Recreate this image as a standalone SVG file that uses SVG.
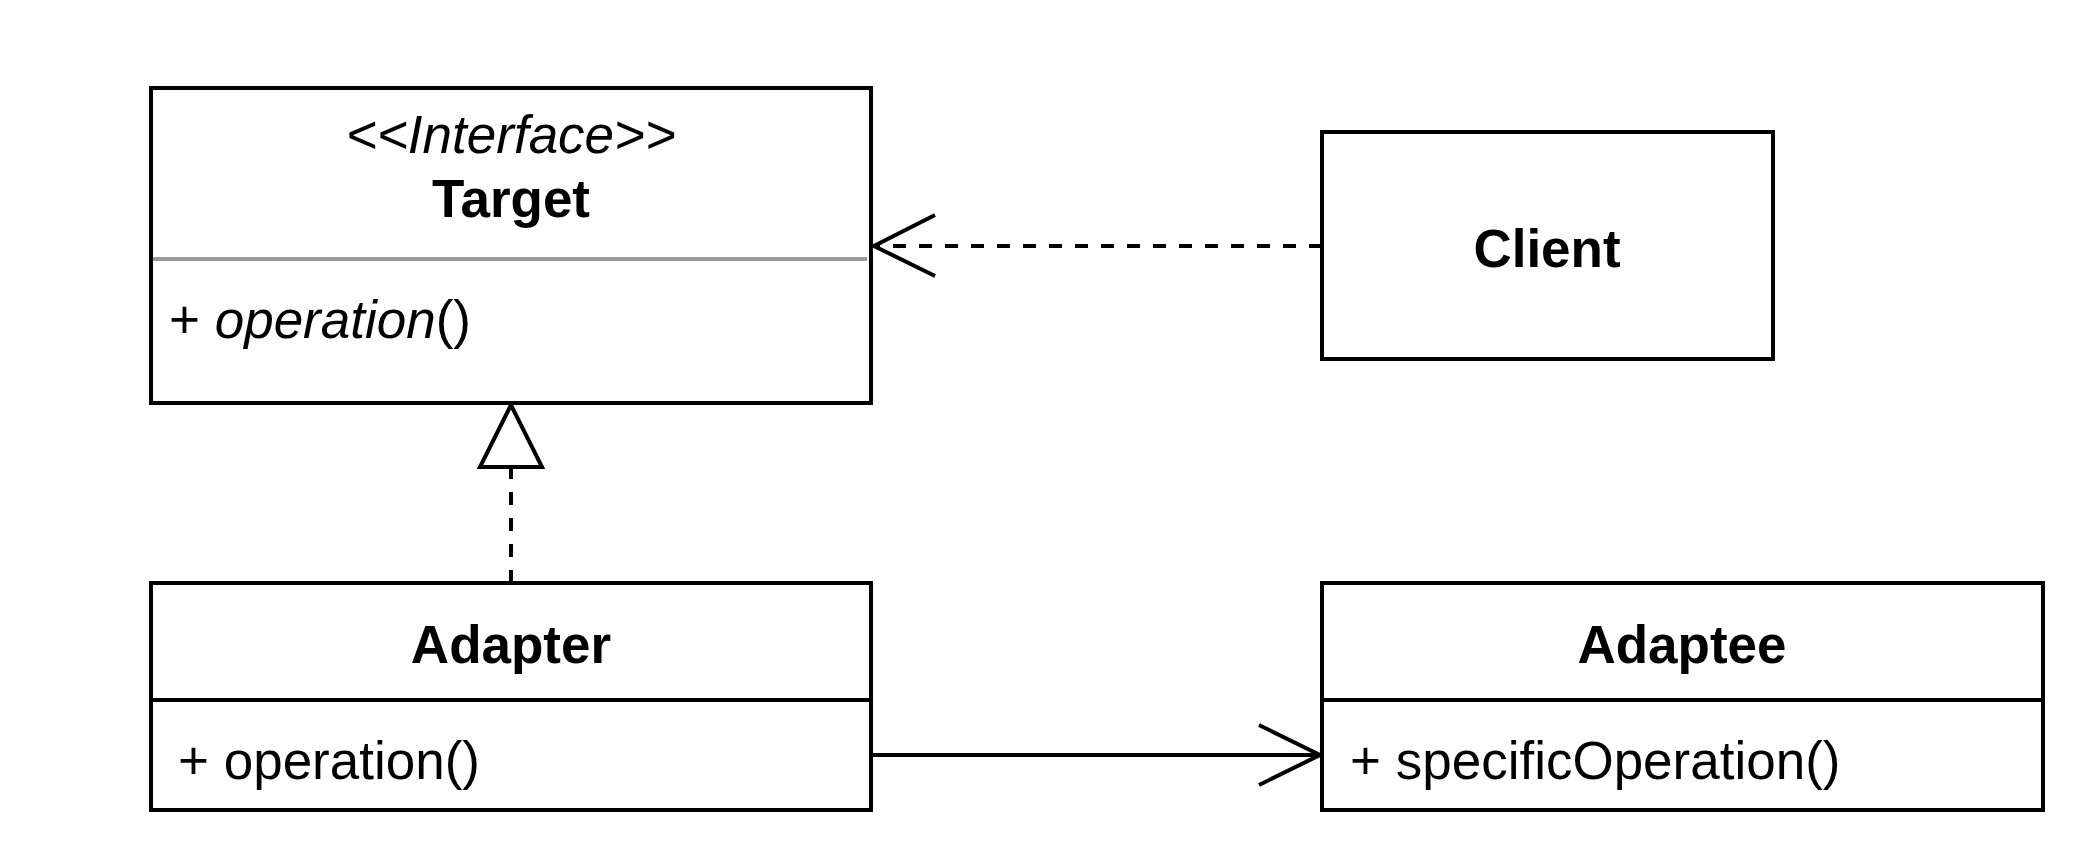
<svg xmlns="http://www.w3.org/2000/svg" width="2080" height="854" viewBox="0 0 2080 854">
<style>
.box{fill:#fff;stroke:#000;stroke-width:4}
.div{stroke:#000;stroke-width:4}
.t{font-family:"Liberation Sans",Arial,Helvetica,sans-serif;font-size:53px;fill:#000}
.b{font-weight:bold}
.i{font-style:italic}
.c{text-anchor:middle}
.ln{fill:none;stroke:#000;stroke-width:4}
.dash{stroke-dasharray:13 13}
</style>
<rect width="2080" height="854" fill="#fff"/>
<g id="connectors">
  <line class="ln dash" x1="1322" y1="246" x2="876" y2="246"/>
  <polyline class="ln" points="935,215 874,246 935,276"/>
  <line class="ln dash" x1="511" y1="583" x2="511" y2="467"/>
  <polygon class="ln" fill="#fff" points="511,405 480,467 542,467"/>
  <line class="ln" x1="871" y1="755" x2="1318" y2="755"/>
  <polyline class="ln" points="1259,725 1320,755 1259,785"/>
</g>
<g id="target">
  <rect class="box" x="151" y="88" width="720" height="315"/>
  <line x1="153" y1="259" x2="867" y2="259" stroke="#999" stroke-width="4"/>
  <text class="t i c" x="511" y="153">&lt;&lt;Interface&gt;&gt;</text>
  <text class="t b c" x="511" y="217">Target</text>
  <text class="t" x="169" y="338">+ <tspan class="i">operation</tspan>()</text>
</g>
<g id="client">
  <rect class="box" x="1322" y="132" width="451" height="227"/>
  <text class="t b c" x="1547" y="267">Client</text>
</g>
<g id="adapter">
  <rect class="box" x="151" y="583" width="720" height="227"/>
  <line class="div" x1="151" y1="700" x2="871" y2="700"/>
  <text class="t b c" x="511" y="663">Adapter</text>
  <text class="t" x="178" y="779">+ operation()</text>
</g>
<g id="adaptee">
  <rect class="box" x="1322" y="583" width="721" height="227"/>
  <line class="div" x1="1322" y1="700" x2="2043" y2="700"/>
  <text class="t b c" x="1682" y="663">Adaptee</text>
  <text class="t" x="1350" y="779">+ specificOperation()</text>
</g>
</svg>
